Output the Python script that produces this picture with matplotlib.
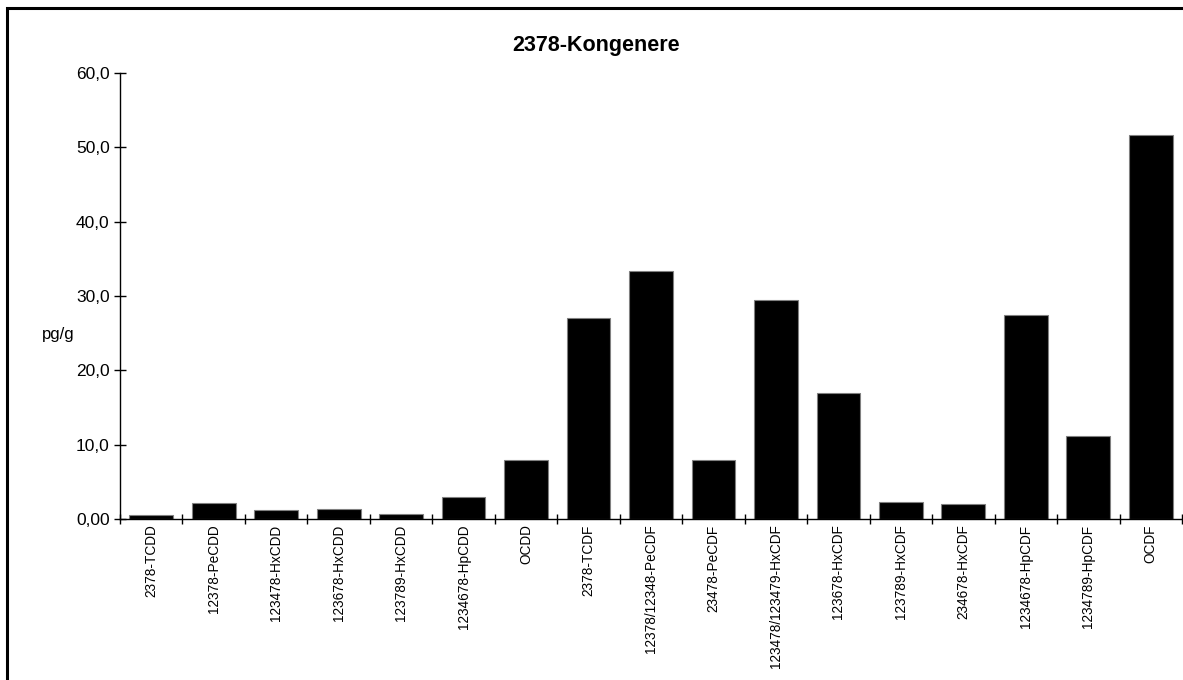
import matplotlib.pyplot as plt
from matplotlib.patches import Rectangle
from matplotlib.ticker import FixedLocator, FuncFormatter
import numpy as np

plt.rcParams['font.family'] = ['Liberation Sans', 'DejaVu Sans']

congeners = ['2378-TCDD', '12378-PeCDD', '123478-HxCDD', '123678-HxCDD',
             '123789-HxCDD', '1234678-HpCDD', 'OCDD', '2378-TCDF',
             '12378/12348-PeCDF', '23478-PeCDF', '123478/123479-HxCDF',
             '123678-HxCDF', '123789-HxCDF', '234678-HxCDF',
             '1234678-HpCDF', '1234789-HpCDF', 'OCDF']
values = [0.6, 2.1, 1.2, 1.4, 0.7, 3.0, 8.0, 27.1, 33.4, 8.0, 29.5,
          16.9, 2.3, 2.0, 27.5, 11.1, 51.7]
yticks = [0, 10, 20, 30, 40, 50, 60]

W, H = 1183, 680
fig = plt.figure(figsize=(W / 100, H / 100), dpi=100)
ax = fig.add_axes([120 / W, (H - 519) / H, 1062 / W, 446 / H])

x = np.arange(len(congeners))
ax.bar(x, values, width=0.7, color='black', edgecolor='#808080', linewidth=0.8)

ax.set_xlim(-0.5, len(congeners) - 0.5)
ax.set_ylim(0, 60)

ax.set_yticks(yticks)
ax.yaxis.set_major_formatter(FuncFormatter(lambda v, p: '0,00' if v == 0 else f'{v:.1f}'.replace('.', ',')))
ax.tick_params(axis='y', direction='inout', length=9, width=1, labelsize=12.5, pad=3)

ax.set_xticks(x)
ax.set_xticklabels(congeners, rotation=90, fontsize=9.8)
ax.tick_params(axis='x', which='major', length=0, pad=4)
ax.xaxis.set_minor_locator(FixedLocator(np.arange(len(congeners) + 1) - 0.5))
ax.tick_params(axis='x', which='minor', direction='inout', length=7, width=1)

for s in ['top', 'right']:
    ax.spines[s].set_visible(False)
for s in ['left', 'bottom']:
    ax.spines[s].set_linewidth(1)

fig.text(596 / W, (H - 45) / H, '2378-Kongenere', ha='center', va='center',
         fontsize=15.5, fontweight='bold')
fig.text(58 / W, (H - 335) / H, 'pg/g', ha='center', va='center', fontsize=12)

fig.patches.append(Rectangle((7 / W, -0.1), 1.2, 1.1 - 8 / H, transform=fig.transFigure,
                             fill=False, edgecolor='black', linewidth=2.2))

fig.savefig('out.png', dpi=100)
